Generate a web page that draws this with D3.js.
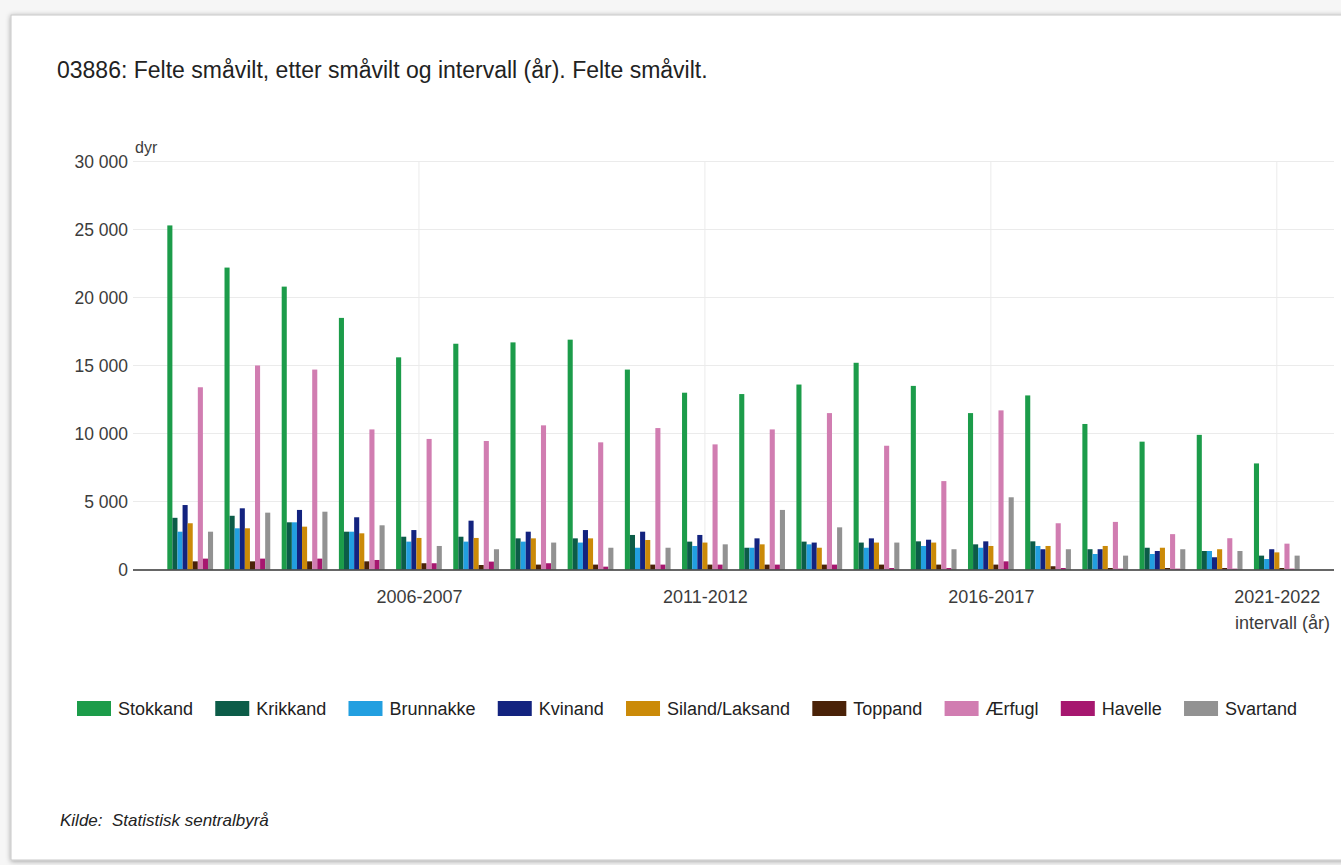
<!DOCTYPE html>
<html>
<head>
<meta charset="utf-8">
<script src="https://cdn.jsdelivr.net/npm/d3@7"></script>
<style>
    html, body { margin: 0; padding: 0; background: #f6f6f6; }
    svg { display: block; font-family: "Liberation Sans", Arial, sans-serif; }
    .chart-title { font-size: 23px; fill: #222; }
    .axis text { font-size: 17.5px; fill: #3c3c3c; }
    .axis path, .axis line { display: none; }
    .grid line { stroke: #ebebeb; stroke-width: 1; }
    .legend text { font-size: 18px; fill: #222; }
    .source { font-size: 17px; font-style: italic; fill: #222; }
</style>
</head>
<body>
<svg id="chart" width="1341" height="865"></svg>
<script>
// intervals on the x axis
const intervals = ['2002-2003', '2003-2004', '2004-2005', '2005-2006', '2006-2007', '2007-2008',
    '2008-2009', '2009-2010', '2010-2011', '2011-2012', '2012-2013', '2013-2014', '2014-2015',
    '2015-2016', '2016-2017', '2017-2018', '2018-2019', '2019-2020', '2020-2021', '2021-2022'];
const labelledIntervals = ['2006-2007', '2011-2012', '2016-2017', '2021-2022'];
const yTicks = [0, 5000, 10000, 15000, 20000, 25000, 30000];

// species, in legend order
const species = ['Stokkand', 'Krikkand', 'Brunnakke', 'Kvinand', 'Siland/Laksand', 'Toppand', 'Ærfugl', 'Havelle', 'Svartand'];
const speciesColors = ['#1c9c4a', '#0c5c48', '#229fe0', '#13237f', '#cb8a08', '#4a2208', '#d17db1', '#a6176f', '#929292'];

// felte dyr per interval
const stokkand  = [25300, 22200, 20800, 18500, 15600, 16600, 16700, 16900, 14700, 13000, 12900, 13600, 15200, 13500, 11500, 12800, 10700, 9400, 9900, 7800];
const krikkand  = [3800, 3950, 3470, 2780, 2410, 2410, 2290, 2290, 2540, 2050, 1600, 2050, 1980, 2070, 1850, 2070, 1490, 1600, 1360, 1020];
const brunnakke = [2780, 3030, 3470, 2780, 2050, 2050, 2050, 1980, 1600, 1730, 1600, 1850, 1600, 1730, 1600, 1730, 1140, 1140, 1360, 770];
const kvinand   = [4740, 4500, 4380, 3840, 2900, 3590, 2780, 2900, 2780, 2540, 2290, 1980, 2290, 2190, 2070, 1490, 1490, 1360, 900, 1490];
const siland    = [3400, 3030, 3150, 2660, 2320, 2320, 2290, 2290, 2170, 1980, 1850, 1600, 1980, 1980, 1730, 1730, 1730, 1600, 1490, 1260];
const toppand   = [600, 600, 600, 600, 460, 330, 360, 360, 360, 360, 360, 360, 360, 360, 360, 240, 110, 110, 110, 110];
const aerfugl   = [13400, 15000, 14700, 10300, 9600, 9450, 10600, 9350, 10400, 9200, 10300, 11500, 9100, 6500, 11700, 3400, 3500, 2600, 2300, 1900];
const havelle   = [800, 800, 800, 700, 460, 580, 460, 210, 360, 360, 360, 360, 110, 110, 600, 110, 60, 60, 60, 60];
const svartand  = [2780, 4180, 4250, 3250, 1730, 1490, 1980, 1600, 1600, 1850, 4380, 3100, 1980, 1490, 5310, 1490, 1020, 1490, 1360, 1020];

const seriesValues = [stokkand, krikkand, brunnakke, kvinand, siland, toppand, aerfugl, havelle, svartand];

/**
 * Grouped bar chart
 */
class GroupedBars {

    constructor(_config, _data) {
        this.config = {
            parentElement: _config.parentElement,
            containerWidth: _config.containerWidth || 1341,
            containerHeight: _config.containerHeight || 865,
            margin: _config.margin || { top: 161.5, right: 7, bottom: 295.5, left: 133 },
        }
        this.data = _data;
        this.initVis();
    }

    initVis() {
        let vis = this;

        vis.width = vis.config.containerWidth - vis.config.margin.left - vis.config.margin.right;
        vis.height = vis.config.containerHeight - vis.config.margin.top - vis.config.margin.bottom;

        vis.svg = d3.select(vis.config.parentElement);

        // card with a soft shadow
        const defs = vis.svg.append('defs');
        const shadow = defs.append('filter').attr('id', 'shadow')
            .attr('x', '-5%').attr('y', '-5%').attr('width', '110%').attr('height', '110%');
        shadow.append('feDropShadow')
            .attr('dx', 0).attr('dy', 1).attr('stdDeviation', 2.5)
            .attr('flood-color', '#000').attr('flood-opacity', 0.35);

        vis.svg.append('rect')
            .attr('x', 11).attr('y', 15)
            .attr('width', 1360).attr('height', 845)
            .attr('fill', '#fff')
            .attr('stroke', '#c8c8c8')
            .attr('filter', 'url(#shadow)');

        // x is a continuous interval index, one step padding on the left
        vis.xScale = d3.scaleLinear()
            .domain([-1, vis.data.categories.length])
            .range([0, vis.width]);

        vis.yScale = d3.scaleLinear()
            .domain([0, 30000])
            .range([vis.height, 0]);

        vis.step = vis.xScale(1) - vis.xScale(0);
        vis.inner = d3.scaleBand()
            .domain(vis.data.species)
            .range([-vis.step * 0.4, vis.step * 0.4])
            .padding(0);

        vis.chart = vis.svg.append('g')
            .attr('transform', `translate(${vis.config.margin.left},${vis.config.margin.top})`);

        // gridlines
        vis.chart.append('g')
            .attr('class', 'grid')
            .selectAll('line.h')
            .data(yTicks.filter(d => d > 0))
            .join('line')
            .attr('x1', 0).attr('x2', vis.width)
            .attr('y1', d => vis.yScale(d)).attr('y2', d => vis.yScale(d));

        vis.chart.select('.grid')
            .selectAll('line.v')
            .data(labelledIntervals)
            .join('line')
            .attr('class', 'v')
            .attr('x1', d => vis.xScale(vis.data.categories.indexOf(d)))
            .attr('x2', d => vis.xScale(vis.data.categories.indexOf(d)))
            .attr('y1', 0).attr('y2', vis.height);

        vis.barsG = vis.chart.append('g');

        // baseline
        vis.chart.append('line')
            .attr('x1', 0).attr('x2', vis.width)
            .attr('y1', vis.height + 0.5).attr('y2', vis.height + 0.5)
            .attr('stroke', '#333').attr('stroke-width', 1.5);

        // axes
        vis.yAxis = d3.axisLeft(vis.yScale)
            .tickValues(yTicks)
            .tickSize(0)
            .tickPadding(5)
            .tickFormat(d => d3.format(',')(d).replace(/,/g, ' '));

        vis.xAxis = d3.axisBottom(vis.xScale)
            .tickValues(labelledIntervals.map(d => vis.data.categories.indexOf(d)))
            .tickSize(0)
            .tickPadding(21)
            .tickFormat(i => vis.data.categories[i]);

        vis.yAxisG = vis.chart.append('g').attr('class', 'axis y-axis');
        vis.xAxisG = vis.chart.append('g').attr('class', 'axis x-axis')
            .attr('transform', `translate(0,${vis.height})`);

        // title
        vis.svg.append('text')
            .attr('class', 'chart-title')
            .attr('x', 57)
            .attr('y', 78)
            .text('03886: Felte småvilt, etter småvilt og intervall (år). Felte småvilt.');

        // axis titles
        vis.svg.append('text')
            .attr('x', 135).attr('y', 153)
            .style('font-size', '16px').style('fill', '#3c3c3c')
            .text('dyr');

        vis.svg.append('text')
            .attr('x', 1330).attr('y', 629)
            .attr('text-anchor', 'end')
            .style('font-size', '18px').style('fill', '#3c3c3c')
            .text('intervall (år)');

        // source
        vis.svg.append('text')
            .attr('class', 'source')
            .attr('x', 60).attr('y', 826)
            .attr('xml:space', 'preserve')
            .text('Kilde:  Statistisk sentralbyrå');

        vis.updateVis();
    }

    updateVis() {
        let vis = this;

        vis.flat = [];
        vis.data.values.forEach((vals, s) => {
            vals.forEach((v, i) => vis.flat.push({ species: vis.data.species[s], color: vis.data.colors[s], index: i, value: v }));
        });

        vis.renderVis();
    }

    renderVis() {
        let vis = this;

        vis.barsG.selectAll('.bar')
            .data(vis.flat)
            .join('rect')
            .attr('class', 'bar')
            .attr('x', d => vis.xScale(d.index) + vis.inner(d.species))
            .attr('width', vis.inner.bandwidth())
            .attr('y', d => vis.yScale(d.value))
            .attr('height', d => vis.height - vis.yScale(d.value))
            .attr('fill', d => d.color);

        vis.yAxisG.call(vis.yAxis);
        vis.yAxisG.selectAll('text').attr('dy', '0.32em');
        vis.xAxisG.call(vis.xAxis);
        vis.xAxisG.selectAll('text').style('font-size', '18px');

        // legend, laid out from measured text widths
        const legend = vis.svg.append('g').attr('class', 'legend')
            .attr('transform', 'translate(77,701)');
        let xPos = 0;
        vis.data.species.forEach((s, i) => {
            const item = legend.append('g').attr('transform', `translate(${xPos},0)`);
            item.append('rect')
                .attr('width', 34).attr('height', 15)
                .attr('fill', vis.data.colors[i]);
            const t = item.append('text')
                .attr('x', 41).attr('y', 14)
                .text(s);
            xPos += 41 + t.node().getComputedTextLength() + 22.2;
        });
    }
}

const chart = new GroupedBars({ parentElement: '#chart' }, {
    categories: intervals,
    species: species,
    colors: speciesColors,
    values: seriesValues
});
</script>
</body>
</html>
